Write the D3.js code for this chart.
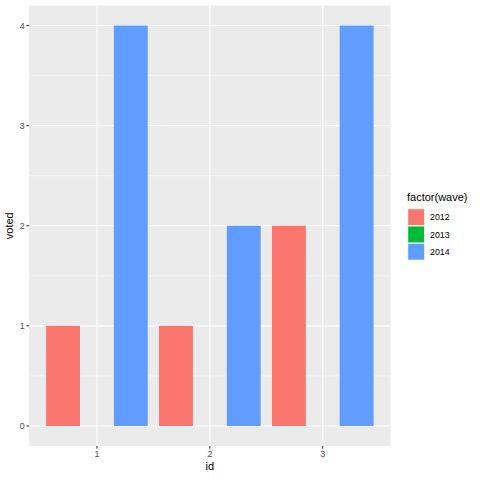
<!DOCTYPE html>
<html><head><meta charset="utf-8">
<script src="https://cdn.jsdelivr.net/npm/d3@7"></script>
<style>body{margin:0;background:#fff}svg{display:block}text{font-family:"Liberation Sans",Arial,sans-serif}</style>
</head><body>
<script>
const ids = ["1","2","3"];
const waves = ["2012","2013","2014"];
const colors = ["#F8766D","#00BA38","#619CFF"];
const voted2012 = [1,1,2];
const voted2013 = [0,0,0];
const voted2014 = [4,2,4];
const yTicks = [0,1,2,3,4];

const W=480,H=480;
const pL=29.2,pR=390.5,pT=5.5,pB=446;
const svg=d3.select("body").append("svg").attr("width",W).attr("height",H);
svg.append("rect").attr("width",W).attr("height",H).attr("fill","#fff");

const x=d3.scaleBand().domain(ids).range([pL,pR]).paddingInner(0.2).paddingOuter(0.6).align(0.5);
// use linear mapping for discrete positions
const unit=(pR-pL)/3.2;
const xc=id=>pL+(ids.indexOf(id)+0.6)*unit;
const y=d3.scaleLinear().domain([-0.2,4.2]).range([pB,pT]);

svg.append("rect").attr("x",pL).attr("y",pT).attr("width",pR-pL).attr("height",pB-pT).attr("fill","#EBEBEB");
// minor y grid
[0.5,1.5,2.5,3.5].forEach(v=>svg.append("line").attr("x1",pL).attr("x2",pR).attr("y1",y(v)).attr("y2",y(v)).attr("stroke","#fff").attr("stroke-width",0.53));
yTicks.forEach(v=>svg.append("line").attr("x1",pL).attr("x2",pR).attr("y1",y(v)).attr("y2",y(v)).attr("stroke","#fff").attr("stroke-width",1.07));
ids.forEach(id=>svg.append("line").attr("x1",xc(id)).attr("x2",xc(id)).attr("y1",pT).attr("y2",pB).attr("stroke","#fff").attr("stroke-width",1.07));

const series=[voted2012,voted2013,voted2014];
const bw=0.3*unit;
series.forEach((vals,si)=>{
  svg.append("g").selectAll("rect").data(vals).join("rect")
    .attr("x",(d,i)=>xc(ids[i])+(-0.45+0.3*si)*unit)
    .attr("width",bw)
    .attr("y",d=>y(Math.max(d,0)))
    .attr("height",d=>Math.abs(y(0)-y(d)))
    .attr("fill",colors[si]);
});

// axes
const yAxis=svg.append("g");
yTicks.forEach(v=>{
  yAxis.append("line").attr("x1",pL-2.7).attr("x2",pL).attr("y1",y(v)).attr("y2",y(v)).attr("stroke","#333").attr("stroke-width",1.07);
  yAxis.append("text").attr("x",pL-4.5).attr("y",y(v)).attr("dy","0.35em").attr("text-anchor","end").attr("font-size",8.8).attr("fill","#4D4D4D").text(v);
});
ids.forEach(id=>{
  svg.append("line").attr("x1",xc(id)).attr("x2",xc(id)).attr("y1",pB).attr("y2",pB+2.7).attr("stroke","#333").attr("stroke-width",1.07);
  svg.append("text").attr("x",xc(id)).attr("y",pB+11).attr("text-anchor","middle").attr("font-size",8.8).attr("fill","#4D4D4D").text(id);
});
svg.append("text").attr("x",(pL+pR)/2).attr("y",470).attr("text-anchor","middle").attr("font-size",11).attr("fill","#000").text("id");
svg.append("text").attr("transform",`translate(13,${(pT+pB)/2}) rotate(-90)`).attr("text-anchor","middle").attr("font-size",11).attr("fill","#000").text("voted");

// legend
const lg=svg.append("g");
lg.append("text").attr("x",407).attr("y",201).attr("font-size",11).attr("fill","#000").text("factor(wave)");
waves.forEach((w,i)=>{
  const ky=208.5+i*17.28;
  lg.append("rect").attr("x",407.5).attr("y",ky).attr("width",17.28).attr("height",17.28).attr("fill","#F2F2F2");
  lg.append("rect").attr("x",408.2).attr("y",ky+0.7).attr("width",15.9).attr("height",15.9).attr("fill",colors[i]);
  lg.append("text").attr("x",430).attr("y",ky+8.64).attr("dy","0.35em").attr("font-size",8.8).attr("fill","#000").text(w);
});
</script>
</body></html>
